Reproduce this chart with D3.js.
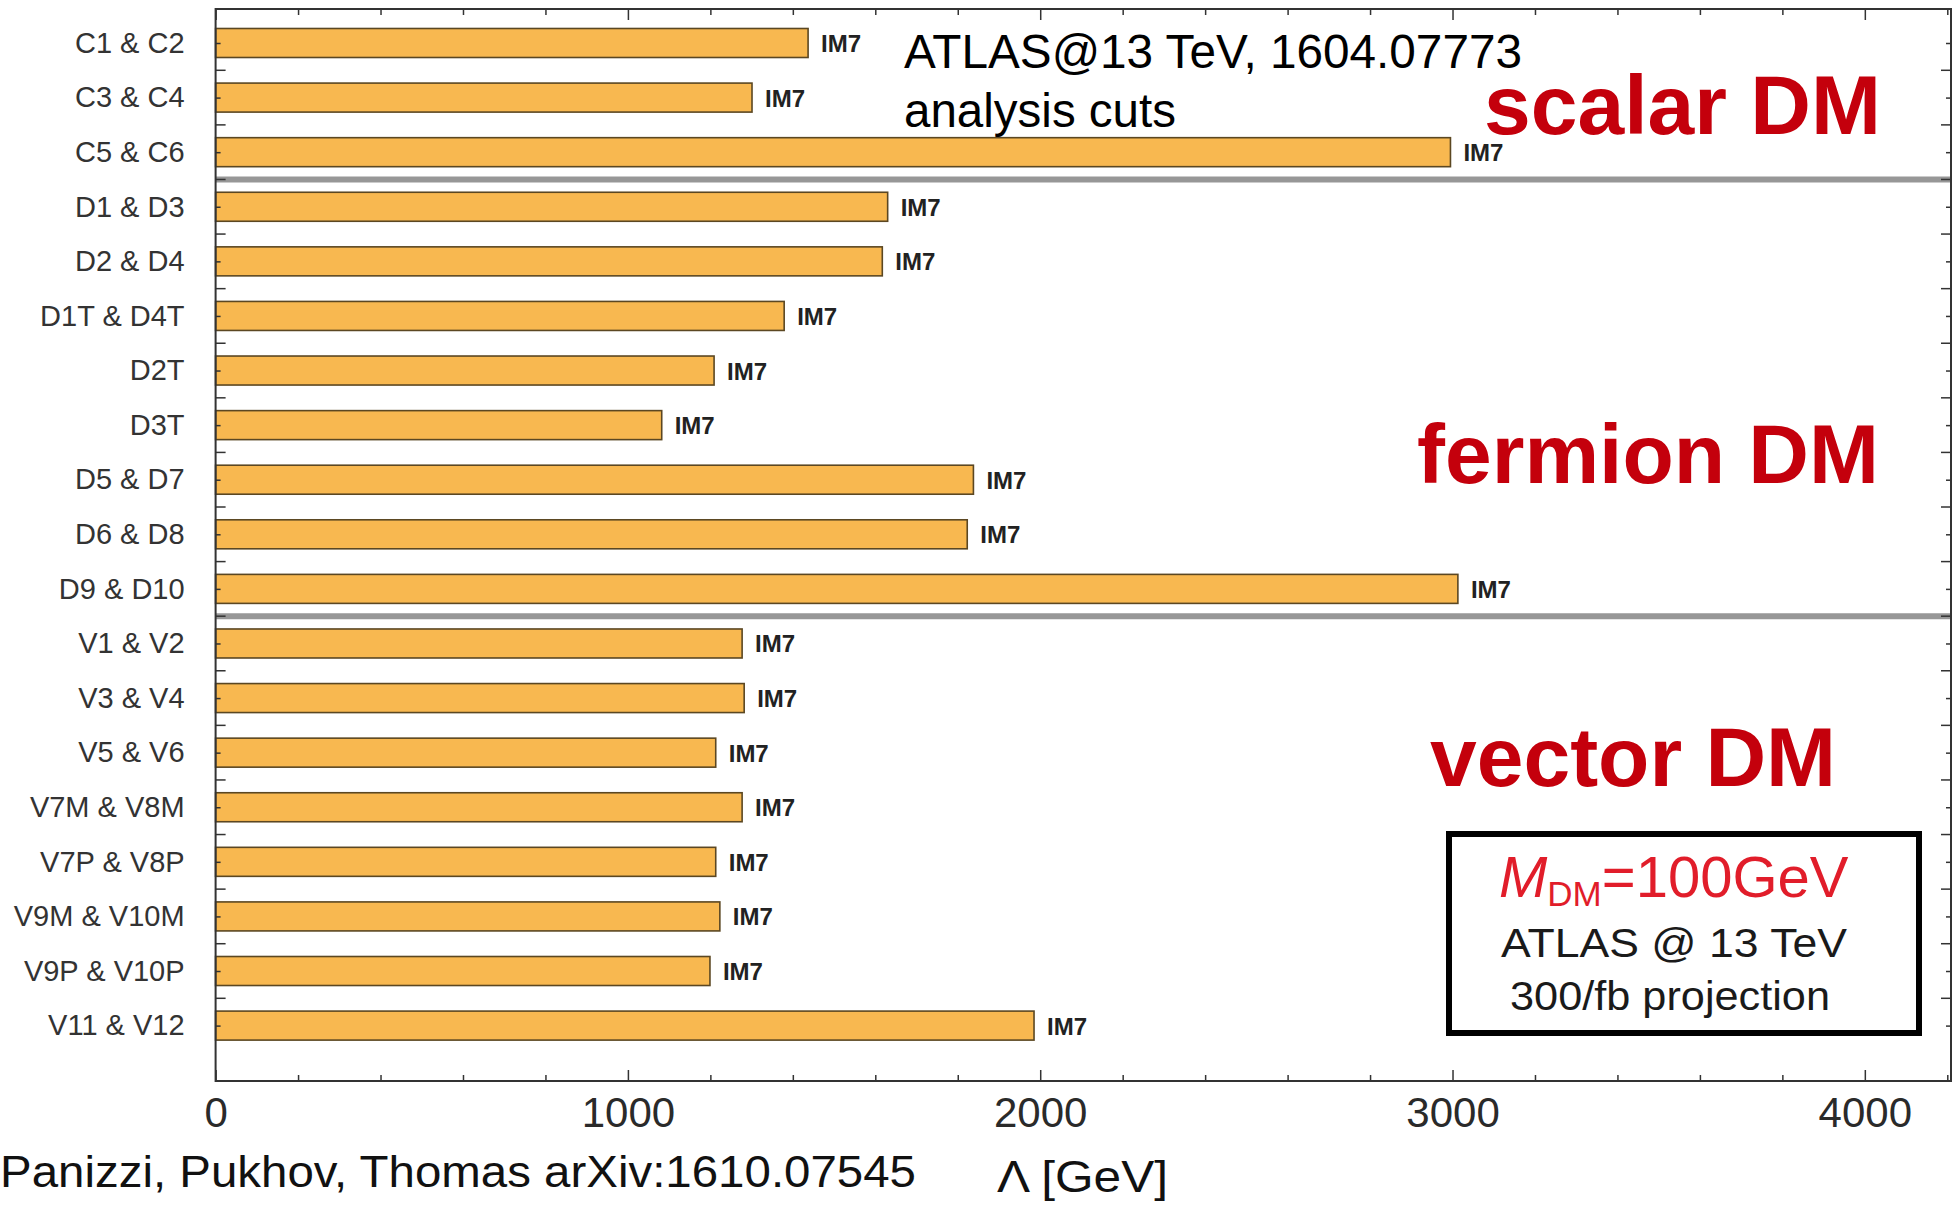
<!DOCTYPE html>
<html>
<head>
<meta charset="utf-8">
<script src="https://cdn.jsdelivr.net/npm/d3@7"></script>
<style>
body { margin: 0; background: #fff; }
svg { display: block; font-family: "Liberation Sans", Arial, Helvetica, sans-serif; }
</style>
</head>
<body>
<div id="chart"></div>
<script>
// operator pairs, top to bottom
const operators = ["C1 & C2", "C3 & C4", "C5 & C6",
    "D1 & D3", "D2 & D4", "D1T & D4T", "D2T", "D3T", "D5 & D7", "D6 & D8", "D9 & D10",
    "V1 & V2", "V3 & V4", "V5 & V6", "V7M & V8M", "V7P & V8P", "V9M & V10M", "V9P & V10P", "V11 & V12"];
// Lambda reach [GeV]
const lambdaLimit = [1437, 1301, 2995,
    1630, 1617, 1379, 1209, 1082, 1838, 1823, 3013,
    1277, 1282, 1213, 1277, 1213, 1223, 1199, 1985];
const limitTag = ["IM7", "IM7", "IM7", "IM7", "IM7", "IM7", "IM7", "IM7", "IM7", "IM7",
    "IM7", "IM7", "IM7", "IM7", "IM7", "IM7", "IM7", "IM7", "IM7"];
const groupLabels = ["scalar DM", "fermion DM", "vector DM"];
const groupLast = ["C5 & C6", "D9 & D10"];   // grey line below these rows
const xMajor = [0, 1000, 2000, 3000, 4000];
const xMinor = [200, 400, 600, 800, 1200, 1400, 1600, 1800, 2200, 2400, 2600, 2800,
    3200, 3400, 3600, 3800, 4200];

const width = 1954, height = 1205;
const plotL = 215.6, plotR = 1951, plotT = 9, plotB = 1081;

const svg = d3.select("#chart").append("svg")
    .attr("width", width)
    .attr("height", height);

svg.append("rect").attr("width", width).attr("height", height).attr("fill", "#fff");

const x = d3.scaleLinear().domain([0, 4209]).range([plotL, plotR]);
const y = d3.scalePoint().domain(operators).range([43, 1025.6]);
const barH = 29;

// half-way positions between rows
const mids = operators.slice(1).map((d, i) => (y(d) + y(operators[i])) / 2);

// bars
svg.append("g")
    .selectAll("rect")
    .data(operators)
    .enter().append("rect")
    .attr("x", x(0))
    .attr("y", d => y(d) - barH / 2)
    .attr("width", (d, i) => x(lambdaLimit[i]) - x(0))
    .attr("height", barH)
    .attr("fill", "#f8b850")
    .attr("stroke", "#5b4722")
    .attr("stroke-width", 1.6);

svg.append("g")
    .selectAll("text")
    .data(operators)
    .enter().append("text")
    .attr("x", (d, i) => x(lambdaLimit[i]) + 13)
    .attr("y", d => y(d) + 9)
    .attr("font-size", 24)
    .attr("font-weight", "bold")
    .attr("fill", "#222")
    .attr("textLength", 40)
    .attr("lengthAdjust", "spacingAndGlyphs")
    .text((d, i) => limitTag[i]);

// grey separators between DM types
svg.append("g")
    .selectAll("line")
    .data(groupLast)
    .enter().append("line")
    .attr("x1", plotL).attr("x2", plotR)
    .attr("y1", d => y(d) + y.step() / 2)
    .attr("y2", d => y(d) + y.step() / 2)
    .attr("stroke", "#979797")
    .attr("stroke-width", 6);

// axes
const axisColor = "#333";
const bAxis = svg.append("g").attr("transform", `translate(0,${plotB})`)
    .call(d3.axisBottom(x).tickValues(xMajor).tickSize(-11).tickPadding(16).tickFormat(d3.format("d")));
svg.append("g").attr("transform", `translate(0,${plotB})`)
    .call(d3.axisBottom(x).tickValues(xMinor).tickSize(-6).tickFormat(""));
svg.append("g").attr("transform", `translate(0,${plotT})`)
    .call(d3.axisTop(x).tickValues(xMajor).tickSize(-11).tickFormat(""));
svg.append("g").attr("transform", `translate(0,${plotT})`)
    .call(d3.axisTop(x).tickValues(xMinor).tickSize(-6).tickFormat(""));
const lAxis = svg.append("g").attr("transform", `translate(${plotL},0)`)
    .call(d3.axisLeft(y).tickSize(-5).tickPadding(31));
svg.append("g").attr("transform", `translate(${plotR},0)`)
    .call(d3.axisRight(y).tickSize(-5).tickFormat(""));

svg.selectAll(".domain").remove();
svg.selectAll(".tick line").attr("stroke", axisColor).attr("stroke-width", 1.5);
bAxis.selectAll("text").attr("font-size", 42).attr("fill", "#2a2a2a")
    .style("font-family", "Liberation Sans, Arial, sans-serif");
lAxis.selectAll("text").attr("font-size", 29).attr("fill", "#333")
    .style("font-family", "Liberation Sans, Arial, sans-serif");

// longer ticks half-way between rows, left and right
svg.append("g").selectAll("line").data(mids).enter().append("line")
    .attr("x1", plotL).attr("x2", plotL + 10).attr("y1", d => d).attr("y2", d => d)
    .attr("stroke", axisColor).attr("stroke-width", 1.5);
svg.append("g").selectAll("line").data(mids).enter().append("line")
    .attr("x1", plotR).attr("x2", plotR - 10).attr("y1", d => d).attr("y2", d => d)
    .attr("stroke", axisColor).attr("stroke-width", 1.5);

// frame
svg.append("rect")
    .attr("x", plotL).attr("y", plotT)
    .attr("width", plotR - plotL).attr("height", plotB - plotT)
    .attr("fill", "none").attr("stroke", axisColor).attr("stroke-width", 2);

// annotation top
svg.append("text").attr("x", 904).attr("y", 68)
    .attr("font-size", 48).attr("fill", "#000")
    .attr("textLength", 618).attr("lengthAdjust", "spacingAndGlyphs")
    .text("ATLAS@13 TeV, 1604.07773");
svg.append("text").attr("x", 904).attr("y", 127)
    .attr("font-size", 48).attr("fill", "#000")
    .attr("textLength", 272).attr("lengthAdjust", "spacingAndGlyphs")
    .text("analysis cuts");

// DM type labels
const groupPos = [[1484, 134], [1417, 483], [1430, 786]];
svg.append("g").selectAll("text").data(groupLabels).enter().append("text")
    .attr("x", (d, i) => groupPos[i][0])
    .attr("y", (d, i) => groupPos[i][1])
    .attr("font-size", 84).attr("font-weight", "bold").attr("fill", "#c4000c")
    .text(d => d);

// legend box
svg.append("rect")
    .attr("x", 1449).attr("y", 834).attr("width", 470).attr("height", 199)
    .attr("fill", "#fff").attr("stroke", "#000").attr("stroke-width", 6);
const m = svg.append("text").attr("x", 1499).attr("y", 897)
    .attr("font-size", 58).attr("fill", "#e11d2a");
m.append("tspan").attr("font-style", "italic").text("M");
m.append("tspan").attr("font-size", 35).attr("dy", 9).text("DM");
m.append("tspan").attr("dy", -9).text("=100GeV");
svg.append("text").attr("x", 1501).attr("y", 957)
    .attr("font-size", 40).attr("fill", "#1a1a1a")
    .attr("textLength", 346).attr("lengthAdjust", "spacingAndGlyphs")
    .text("ATLAS @ 13 TeV");
svg.append("text").attr("x", 1510).attr("y", 1010)
    .attr("font-size", 40).attr("fill", "#1a1a1a")
    .attr("textLength", 320).attr("lengthAdjust", "spacingAndGlyphs")
    .text("300/fb projection");

// bottom texts
svg.append("text").attr("x", 0).attr("y", 1187)
    .attr("font-size", 44).attr("fill", "#111")
    .attr("textLength", 916).attr("lengthAdjust", "spacingAndGlyphs")
    .text("Panizzi, Pukhov, Thomas arXiv:1610.07545");
svg.append("text").attr("x", 997).attr("y", 1192)
    .attr("font-size", 44).attr("fill", "#111")
    .attr("textLength", 171).attr("lengthAdjust", "spacingAndGlyphs")
    .text("Λ [GeV]");
</script>
</body>
</html>
